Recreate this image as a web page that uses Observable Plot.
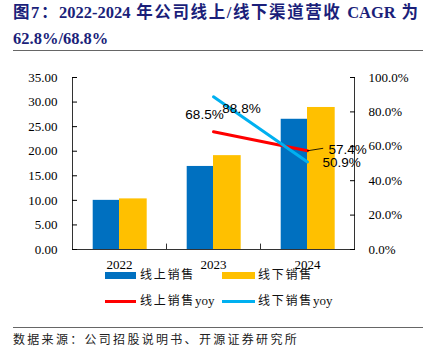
<!DOCTYPE html>
<html><head><meta charset="utf-8">
<script src="https://cdn.jsdelivr.net/npm/d3@7"></script>
<script src="https://cdn.jsdelivr.net/npm/@observablehq/plot@0.6"></script>
<style>
body{margin:0;background:#fff;}
#wrap{position:relative;width:430px;height:361px;overflow:hidden;font-family:"Liberation Serif","Noto Sans CJK SC",serif;background:#fff;}
.t{position:absolute;left:13px;width:405px;color:#1b1f7a;font-weight:bold;font-size:16.5px;line-height:20px;white-space:nowrap;}
.t1{top:3px;text-align:justify;text-align-last:justify;white-space:normal;}
.t2{top:29px;}
.rule{position:absolute;left:13px;width:410px;height:1px;background:#666;}
#chart{position:absolute;left:0;top:60px;}
.lg{position:absolute;font-size:12px;letter-spacing:1.75px;line-height:16px;color:#111;white-space:nowrap;}
.lg .en{font-size:13px;letter-spacing:0;}
.sw{position:absolute;}
.src{position:absolute;left:13px;top:332px;font-size:12px;letter-spacing:2.3px;line-height:16px;color:#222;white-space:nowrap;}
</style></head>
<body>
<div id="wrap">
  <div class="t t1">图7：2022-2024 年公司线上/线下渠道营收 CAGR 为</div>
  <div class="t t2">62.8%/68.8%</div>
  <div class="rule" style="top:50px"></div>
  <div id="chart"></div>
  <div id="legend"></div>
  <div class="rule" style="top:327px"></div>
  <div class="src">数据来源：公司招股说明书、开源证券研究所</div>
</div>
<script>
const years = ["2022", "2023", "2024"];
const online = [10.0, 16.9, 26.5];
const offline = [10.3, 19.1, 28.9];
const yoyYears = ["2023", "2024"];
const onlineYoy = [68.5, 57.4];
const offlineYoy = [88.8, 50.9];
const leftTicks = [0, 5, 10, 15, 20, 25, 30, 35];
const rightTicks = [0, 20, 40, 60, 80, 100];
const seriesNames = ["线上销售", "线下销售", "线上销售yoy", "线下销售yoy"];
const colors = ["#0070C0", "#FFC000", "#FF0000", "#00B0F0"];

const yMax = 35, pMax = 100;
const toY = p => p / pMax * yMax;
const bars = years.map((y, i) => ({year: y, online: online[i], offline: offline[i]}));
const yoy = yoyYears.map((y, i) => ({year: y, on: onlineYoy[i], off: offlineYoy[i]}));
const lab = {fontFamily: "Liberation Sans, Arial, sans-serif", fontSize: 13.5, fill: "#000"};
const leader = {draw(ctx, l) { ctx.moveTo(0, 0); ctx.lineTo(0, -l); }};

const chart = Plot.plot({
  width: 430, height: 215,
  marginTop: 17, marginBottom: 26, marginLeft: 72, marginRight: 76,
  style: {background: "#fff", overflow: "visible"},
  x: {type: "band", domain: years, padding: 0},
  y: {domain: [0, yMax]},
  marks: [
    Plot.barY(bars, {x: "year", y: "online", fill: colors[0], insetLeft: 20.7, insetRight: 47}),
    Plot.barY(bars, {x: "year", y: "offline", fill: colors[1], insetLeft: 47, insetRight: 19.3}),
    Plot.line(yoy, {x: "year", y: d => toY(d.on), stroke: colors[2], strokeWidth: 3}),
    Plot.line(yoy, {x: "year", y: d => toY(d.off), stroke: colors[3], strokeWidth: 3}),
    Plot.vector(yoy, {filter: d => d.year === "2024", x: "year", y: d => toY(d.on), length: 15.5, rotate: 81, anchor: "start", stroke: "#000", strokeWidth: 0.8, shape: leader}),
    Plot.text(yoy, {filter: d => d.year === "2023", x: "year", y: d => toY(d.on), text: d => d.on.toFixed(1) + "%", dx: -9, dy: -17, ...lab}),
    Plot.text(yoy, {filter: d => d.year === "2023", x: "year", y: d => toY(d.off), text: d => d.off.toFixed(1) + "%", dx: 28, dy: 12, ...lab}),
    Plot.text(yoy, {filter: d => d.year === "2024", x: "year", y: d => toY(d.on), text: d => d.on.toFixed(1) + "%", dx: 21, dy: -1, textAnchor: "start", ...lab}),
    Plot.text(yoy, {filter: d => d.year === "2024", x: "year", y: d => toY(d.off), text: d => d.off.toFixed(1) + "%", dx: 15, dy: 1, textAnchor: "start", ...lab}),
    Plot.ruleY([0], {stroke: "#333", strokeWidth: 1}),
    Plot.frame({anchor: "left", stroke: "#333"}),
    Plot.frame({anchor: "right", stroke: "#333"}),
    Plot.ruleX(years.slice(1), {x: d => d, y1: 0, y2: 1.1, dx: -47, stroke: "#333"}),
    Plot.axisY(leftTicks, {anchor: "left", tickFormat: d => d.toFixed(2), tickSize: -5, tickPadding: 20, fontSize: 13, fontFamily: "Liberation Serif", color: "#000", label: null}),
    Plot.axisY(rightTicks.map(toY), {anchor: "right", tickFormat: d => (d / yMax * pMax).toFixed(1) + "%", tickSize: -5, tickPadding: 19, fontSize: 13, fontFamily: "Liberation Serif", color: "#000", label: null}),
    Plot.axisX({tickSize: 0, tickPadding: 10, fontSize: 13, fontFamily: "Liberation Serif", color: "#000", label: null})
  ]
});
document.getElementById("chart").appendChild(chart);

// legend
const lg = document.getElementById("legend");
const items = [
  {x: 105, y: 275, w: 31, h: 7, tx: 140},
  {x: 222, y: 275, w: 33, h: 7, tx: 258},
  {x: 105, y: 301, w: 31, h: 3, tx: 140},
  {x: 222, y: 301, w: 33, h: 3, tx: 258}
];
seriesNames.forEach((name, i) => {
  const it = items[i];
  const sw = document.createElement("div");
  sw.className = "sw";
  sw.style.cssText = `left:${it.x}px;top:${it.y - it.h / 2}px;width:${it.w}px;height:${it.h}px;background:${colors[i]}`;
  lg.appendChild(sw);
  const t = document.createElement("div");
  t.className = "lg";
  t.style.cssText = `left:${it.tx}px;top:${it.y - 8}px`;
  const m = name.match(/^(.*?)(yoy)?$/);
  t.innerHTML = m[1] + (m[2] ? `<span class="en">${m[2]}</span>` : "");
  lg.appendChild(t);
});
</script>
</body></html>
